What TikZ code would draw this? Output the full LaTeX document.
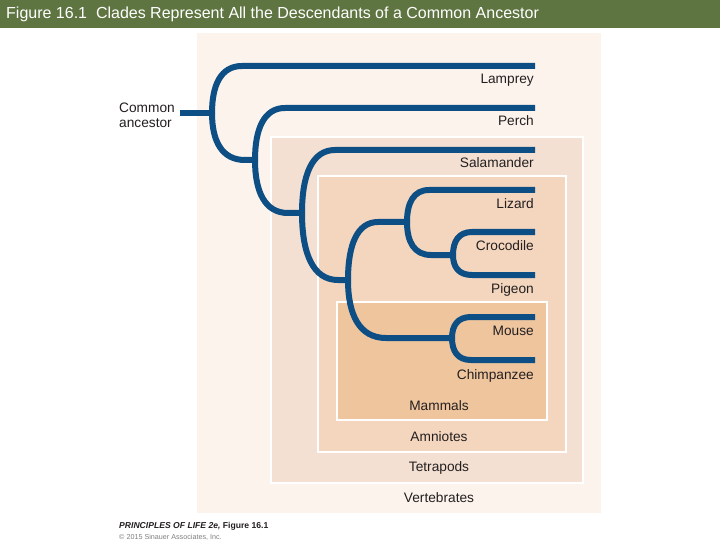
\documentclass[tikz,border=0pt]{standalone}
\usepackage{fontspec}
\setmainfont{Liberation Sans}
\usetikzlibrary{calc}
\definecolor{titlebg}{HTML}{5F7541}
\definecolor{vertc}{HTML}{FCF3EC}
\definecolor{tetrac}{HTML}{F4E0D2}
\definecolor{amnioc}{HTML}{F4D6BE}
\definecolor{mammc}{HTML}{EFC59E}
\definecolor{treec}{HTML}{0D4E84}
\definecolor{txtc}{HTML}{231F20}
\begin{document}
\begin{tikzpicture}[x=1pt,y=-1pt,
  lbl/.style={text=txtc, font=\fontsize{13.7}{16}\selectfont, inner sep=0pt, anchor=base east},
  grp/.style={text=txtc, font=\fontsize{13.7}{16}\selectfont, inner sep=0pt, anchor=base},
  boxw/.style={draw=white, line width=1.5pt},
  br/.style={draw=treec, line width=6pt,
    to path={.. controls ($(\tikztostart)!0.6!(\tikztostart |- \tikztotarget)$) and ([xshift=#1*0.3]\tikztostart |- \tikztotarget) .. ([xshift=#1]\tikztostart |- \tikztotarget) -- (\tikztotarget)}},
  br/.default=30pt]
\useasboundingbox (0,0) rectangle (720,540);
\fill[white] (0,0) rectangle (720,540);
\fill[titlebg] (0,0) rectangle (720,28);
\node[anchor=west, text=white, inner sep=0pt, font=\fontsize{16}{19}\selectfont] (title) at (6,14) {Figure 16.1\ \ Clades Represent All the Descendants of a Common Ancestor};

% clade boxes
\fill[vertc] (197,33) rectangle (601,513);
\filldraw[fill=tetrac, boxw] (271,137) rectangle (583,483);
\filldraw[fill=amnioc, boxw] (318,176) rectangle (566,452);
\filldraw[fill=mammc, boxw] (337,302) rectangle (547,420);

% tree coordinates
\coordinate (anc) at (180,113);
\coordinate (n1) at (212,113);
\coordinate (n2) at (255,160);
\coordinate (n3) at (302,213);
\coordinate (n4) at (348,280);
\coordinate (n5) at (407,222);
\coordinate (n6) at (453,255);
\coordinate (n7) at (452,338);
\coordinate (tLam) at (535,66);
\coordinate (tPer) at (535,108);
\coordinate (tSal) at (535,150);
\coordinate (tLiz) at (535,190);
\coordinate (tCro) at (535,232);
\coordinate (tPig) at (535,275);
\coordinate (tMou) at (535,317);
\coordinate (tChi) at (535,360);

\draw[draw=treec, line width=6pt] (anc) -- (n1);
\draw[br] (n1) to (tLam);
\draw[br=33pt] (n1) to (n2);
\draw[br] (n2) to (tPer);
\draw[br=33pt] (n2) to (n3);
\draw[br=33pt] (n3) to (tSal);
\draw[br=36pt] (n3) to (n4);
\draw[br] (n4) to (n5);
\draw[br=38pt] (n4) to (n7);
\draw[br=22pt] (n5) to (tLiz);
\draw[br=24pt] (n5) to (n6);
\draw[br=19pt] (n6) to (tCro);
\draw[br=19pt] (n6) to (tPig);
\draw[br=19pt] (n7) to (tMou);
\draw[br=19pt] (n7) to (tChi);

% tip labels
\node[lbl] (lLam) at (534,84) {Lamprey};
\node[lbl] (lPer) at (534,126) {Perch};
\node[lbl] (lSal) at (534,168) {Salamander};
\node[lbl] (lLiz) at (534,208) {Lizard};
\node[lbl] (lCro) at (534,250) {Crocodile};
\node[lbl] (lPig) at (534,293) {Pigeon};
\node[lbl] (lMou) at (534,335) {Mouse};
\node[lbl] (lChi) at (534,379) {Chimpanzee};

% group labels
\node[grp] (gMam) at (439,410) {Mammals};
\node[grp] (gAmn) at (439,441) {Amniotes};
\node[grp] (gTet) at (439,471) {Tetrapods};
\node[grp] (gVer) at (439,502) {Vertebrates};

% ancestor label
\node[text=txtc, font=\fontsize{13.7}{15}\selectfont, align=left, inner sep=0pt, anchor=north west] (ancl) at (119,103) {Common\\ancestor};

% credit
\node[anchor=base west, inner sep=0pt, text=txtc, font=\fontsize{8.6}{10}\selectfont\bfseries] (cred) at (119,528) {\itshape PRINCIPLES OF LIFE 2e, \upshape Figure 16.1};
\node[anchor=base west, inner sep=0pt, text=gray, font=\fontsize{7.2}{8}\selectfont] (copy) at (119,539) {\textcopyright\ 2015 Sinauer Associates, Inc.};
\end{tikzpicture}
\end{document}
